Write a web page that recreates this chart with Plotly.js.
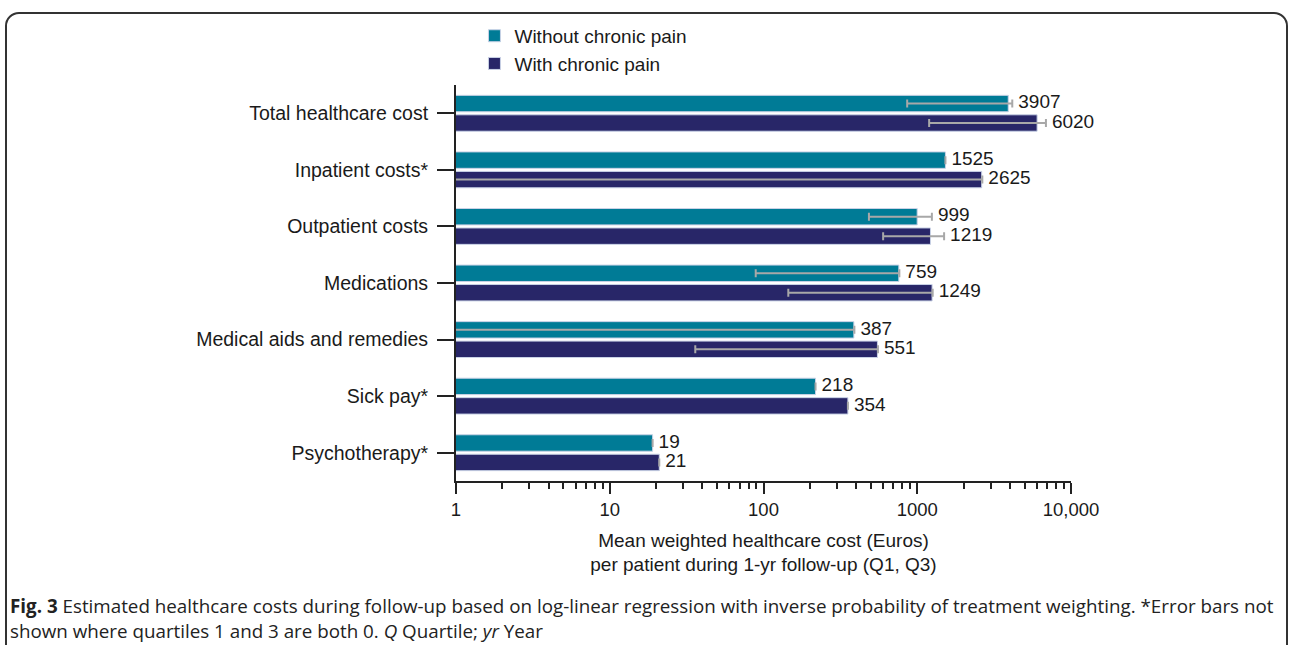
<!DOCTYPE html>
<html><head><meta charset="utf-8">
<script src="https://cdn.plot.ly/plotly-3.0.1.min.js"></script>
<style>
html,body{margin:0;padding:0;background:#fff;}
#wrap{position:relative;width:1290px;height:645px;overflow:hidden;}
#chart{width:1290px;height:645px;}
#frame{position:absolute;left:5px;top:12px;width:1283px;height:680px;border:2px solid #333;border-radius:14px;pointer-events:none;box-sizing:border-box;}
</style></head><body>
<div id="wrap"><div id="chart"></div><div id="frame"></div></div>
<script>
// ---- data ----
const categories = ['Total healthcare cost','Inpatient costs*','Outpatient costs','Medications','Medical aids and remedies','Sick pay*','Psychotherapy*'];
const withoutPain = [3907, 1525, 999, 759, 387, 218, 19];
const withPain    = [6020, 2625, 1219, 1249, 551, 354, 21];
// quartiles (Q1, Q3); null = error bar not shown
const withoutQ1 = [860, null, 485, 89, 0, null, null];
const withoutQ3 = [4150, null, 1245, 765, 390, null, null];
const withQ1    = [1195, 0, 600, 145, 36, null, null];
const withQ3    = [6870, 2650, 1495, 1260, 555, null, null];
const seriesNames = ['Without chronic pain', 'With chronic pain'];
const xTickVals = [1, 10, 100, 1000, 10000];
const xTickText = ['1', '10', '100', '1000', '10,000'];

// ---- styling / layout ----
const colWithout = '#007b96';
const colWith = '#282668';
const FONT = 'Liberation Sans, Arial, Helvetica, sans-serif';
const CAPFONT = 'Open Sans, Noto Sans, sans-serif';
const OFF = 0.172, BW = 0.29;

const idx = categories.map((c, i) => i);
const yWithout = idx.map(i => i - OFF);
const yWith = idx.map(i => i + OFF);

function errPlus(v, q3) { return v.map((x, i) => q3[i] == null ? null : q3[i] - x); }
function errMinus(v, q1) { return v.map((x, i) => q1[i] == null ? null : x - q1[i]); }
function labelX(v, q3) { return v.map((x, i) => q3[i] == null ? x : Math.max(x, q3[i])); }

const errStyle = {type: 'data', symmetric: false, color: '#a8a8a8', thickness: 2, width: 4};

const traces = [
  {type: 'bar', orientation: 'h', name: seriesNames[0], x: withoutPain, y: yWithout, width: BW,
   marker: {color: colWithout, line: {color: '#c9d2e6', width: 1}},
   error_x: Object.assign({array: errPlus(withoutPain, withoutQ3), arrayminus: errMinus(withoutPain, withoutQ1)}, errStyle),
   hoverinfo: 'x+name'},
  {type: 'bar', orientation: 'h', name: seriesNames[1], x: withPain, y: yWith, width: BW,
   marker: {color: colWith, line: {color: '#c9d2e6', width: 1}},
   error_x: Object.assign({array: errPlus(withPain, withQ3), arrayminus: errMinus(withPain, withQ1)}, errStyle),
   hoverinfo: 'x+name'},
  {type: 'scatter', mode: 'markers+text', x: labelX(withoutPain, withoutQ3), y: yWithout,
   text: withoutPain.map(String), textposition: 'middle right', cliponaxis: false,
   marker: {size: 8, color: 'rgba(0,0,0,0)'}, textfont: {family: FONT, size: 19, color: '#1a1a1a'},
   showlegend: false, hoverinfo: 'skip'},
  {type: 'scatter', mode: 'markers+text', x: labelX(withPain, withQ3), y: yWith,
   text: withPain.map(String), textposition: 'middle right', cliponaxis: false,
   marker: {size: 8, color: 'rgba(0,0,0,0)'}, textfont: {family: FONT, size: 19, color: '#1a1a1a'},
   showlegend: false, hoverinfo: 'skip'}
];

const minorTicks = [];
[1, 10, 100, 1000].forEach(d => { for (let k = 2; k <= 9; k++) minorTicks.push(d * k); });

const layout = {
  width: 1290, height: 645,
  margin: {l: 456, r: 219, t: 85, b: 164, pad: 0},
  paper_bgcolor: '#fff', plot_bgcolor: '#fff',
  font: {family: FONT, color: '#1a1a1a'},
  barmode: 'overlay',
  showlegend: true,
  legend: {x: 0.03, xanchor: 'left', y: 1.172, yanchor: 'top', traceorder: 'normal',
           font: {family: FONT, size: 19, color: '#1a1a1a'}, bgcolor: 'rgba(0,0,0,0)'},
  xaxis: {type: 'log', range: [0, 4], tickmode: 'array', tickvals: xTickVals, ticktext: xTickText,
          ticks: 'outside', ticklen: 11, tickwidth: 2, tickcolor: '#222',
          showline: true, linecolor: '#222', linewidth: 2, showgrid: false, zeroline: false,
          tickfont: {family: FONT, size: 18.5, color: '#1a1a1a'},
          minor: {tickmode: 'array', tickvals: minorTicks, ticks: 'outside', ticklen: 6, tickwidth: 2, tickcolor: '#222', showgrid: false},
          title: {text: 'Mean weighted healthcare cost (Euros)<br>per patient during 1-yr follow-up (Q1, Q3)',
                  font: {family: FONT, size: 19, color: '#1a1a1a'}, standoff: 14}},
  yaxis: {range: [6.5, -0.5], tickmode: 'array', tickvals: idx, ticktext: categories,
          ticks: 'outside', ticklen: 17, tickwidth: 2, tickcolor: '#222', ticklabelstandoff: 5,
          showline: true, linecolor: '#222', linewidth: 2, showgrid: false, zeroline: false,
          tickfont: {family: FONT, size: 19.5, color: '#1a1a1a'}},
  annotations: [
    {xref: 'paper', yref: 'paper', x: -0.7285, y: (481 - 606) / 396, xanchor: 'left', yanchor: 'middle', showarrow: false, align: 'left',
     text: '<b>Fig. 3</b> Estimated healthcare costs during follow-up based on log-linear regression with inverse probability of treatment weighting. *Error bars not',
     font: {family: CAPFONT, size: 18.8, color: '#222'}},
    {xref: 'paper', yref: 'paper', x: -0.7285, y: (481 - 631) / 396, xanchor: 'left', yanchor: 'middle', showarrow: false, align: 'left',
     text: 'shown where quartiles 1 and 3 are both 0. <i>Q</i> Quartile; <i>yr</i> Year',
     font: {family: CAPFONT, size: 18.8, color: '#222'}}
  ]
};

Plotly.newPlot('chart', traces, layout, {displayModeBar: false, responsive: false, staticPlot: true});
</script>
</body></html>
